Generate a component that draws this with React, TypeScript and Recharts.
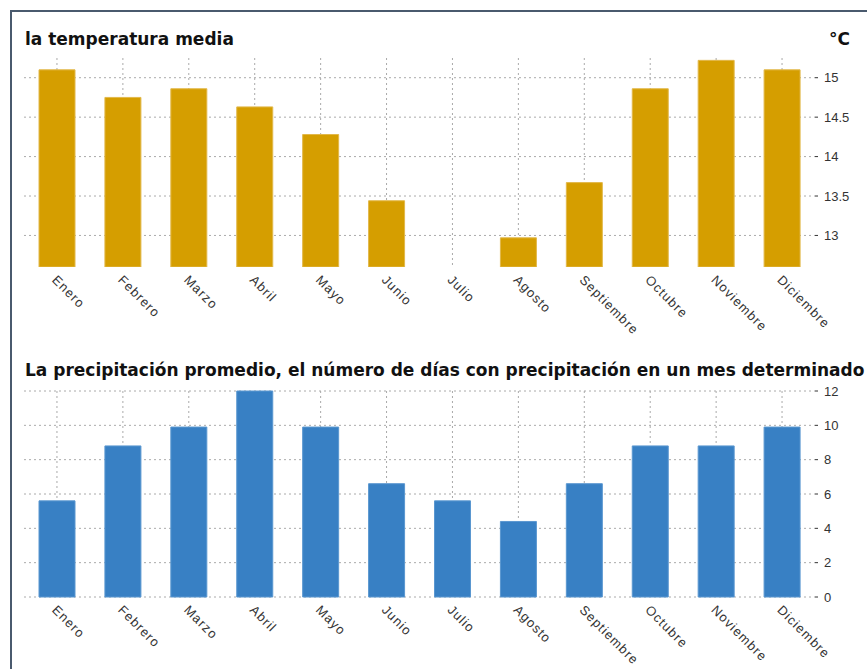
import React from 'react';
import { BarChart, Bar, XAxis, YAxis, CartesianGrid } from 'recharts';

const months = ['Enero', 'Febrero', 'Marzo', 'Abril', 'Mayo', 'Junio', 'Julio', 'Agosto', 'Septiembre', 'Octubre', 'Noviembre', 'Diciembre'];
const tempValues = [15.1, 14.75, 14.86, 14.63, 14.28, 13.44, 12.6, 12.97, 13.67, 14.86, 15.22, 15.1];
const rainDays = [5.6, 8.8, 9.9, 12, 9.9, 6.6, 5.6, 4.4, 6.6, 8.8, 8.8, 9.9];
const tempTicks = [13, 13.5, 14, 14.5, 15];
const rainTicks = [0, 2, 4, 6, 8, 10, 12];

const tempData = months.map((m, i) => ({ month: m, value: tempValues[i] }));
const rainData = months.map((m, i) => ({ month: m, value: rainDays[i] }));

const GOLD = '#d59e00';
const BLUE = '#3880c4';
const GRID = '#aaaaaa';
const TEXT = '#333333';
const SANS = '"Liberation Sans", Arial, sans-serif';
const TITLE_FONT = '"DejaVu Sans", sans-serif';

const AngledTick = ({ x, y, payload }: any) => (
    <g transform={`translate(${x},${y})`}>
        <text
            x={0}
            y={0}
            dy={8}
            transform="rotate(45)"
            textAnchor="start"
            fill={TEXT}
            fontSize={13}
            letterSpacing={1.1}
            fontFamily={SANS}
        >
            {payload.value}
        </text>
    </g>
);

const titleStyle: React.CSSProperties = {
    position: 'absolute',
    left: 25,
    fontFamily: TITLE_FONT,
    fontWeight: 'bold',
    fontSize: 17,
    lineHeight: '20px',
    color: '#111',
    whiteSpace: 'nowrap',
};

export default function App() {
    return (
        <div style={{ position: 'fixed', left: 0, top: 0, width: 867, height: 669, background: '#fff', overflow: 'hidden' }}>
            {/* frame */}
            <div style={{ position: 'absolute', left: 10, top: 10, width: 900, height: 2, background: '#4a5a6e' }} />
            <div style={{ position: 'absolute', left: 10, top: 10, width: 2, height: 700, background: '#4a5a6e' }} />

            <div style={{ ...titleStyle, top: 29 }}>la temperatura media</div>
            <div style={{ ...titleStyle, left: 829, top: 29 }}>°C</div>

            <div style={{ position: 'absolute', left: 0, top: 0 }}>
                <BarChart width={867} height={340} data={tempData} margin={{ top: 58, left: 24, right: 12, bottom: 13 }} barCategoryGap={15}>
                    <CartesianGrid stroke={GRID} strokeDasharray="2 3" syncWithTicks />
                    <XAxis dataKey="month" axisLine={false} tickLine={false} height={60} interval={0} tick={<AngledTick />} />
                    <YAxis
                        orientation="right"
                        width={40}
                        domain={[12.6, 15.25]}
                        allowDataOverflow
                        ticks={tempTicks}
                        axisLine={false}
                        tickSize={3}
                        tickLine={{ stroke: '#333' }}
                        tickMargin={6}
                        tick={{ fill: TEXT, fontSize: 13, fontFamily: SANS, textAnchor: 'start' }}
                    />
                    <Bar dataKey="value" fill={GOLD} stroke="#e2b84a" strokeWidth={1} isAnimationActive={false} />
                </BarChart>
            </div>

            <div style={{ ...titleStyle, top: 360 }}>
                La precipitación promedio, el número de días con precipitación en un mes determinado
            </div>

            <div style={{ position: 'absolute', left: 0, top: 340 }}>
                <BarChart width={867} height={329} data={rainData} margin={{ top: 51, left: 24, right: 12, bottom: 12 }} barCategoryGap={15}>
                    <CartesianGrid stroke={GRID} strokeDasharray="2 3" syncWithTicks />
                    <XAxis dataKey="month" axisLine={false} tickLine={false} height={60} interval={0} tick={<AngledTick />} />
                    <YAxis
                        orientation="right"
                        width={40}
                        domain={[0, 12]}
                        ticks={rainTicks}
                        axisLine={false}
                        tickSize={3}
                        tickLine={{ stroke: '#333' }}
                        tickMargin={6}
                        tick={{ fill: TEXT, fontSize: 13, fontFamily: SANS, textAnchor: 'start' }}
                    />
                    <Bar dataKey="value" fill={BLUE} stroke="#5a97d0" strokeWidth={1} isAnimationActive={false} />
                </BarChart>
            </div>
        </div>
    );
}
